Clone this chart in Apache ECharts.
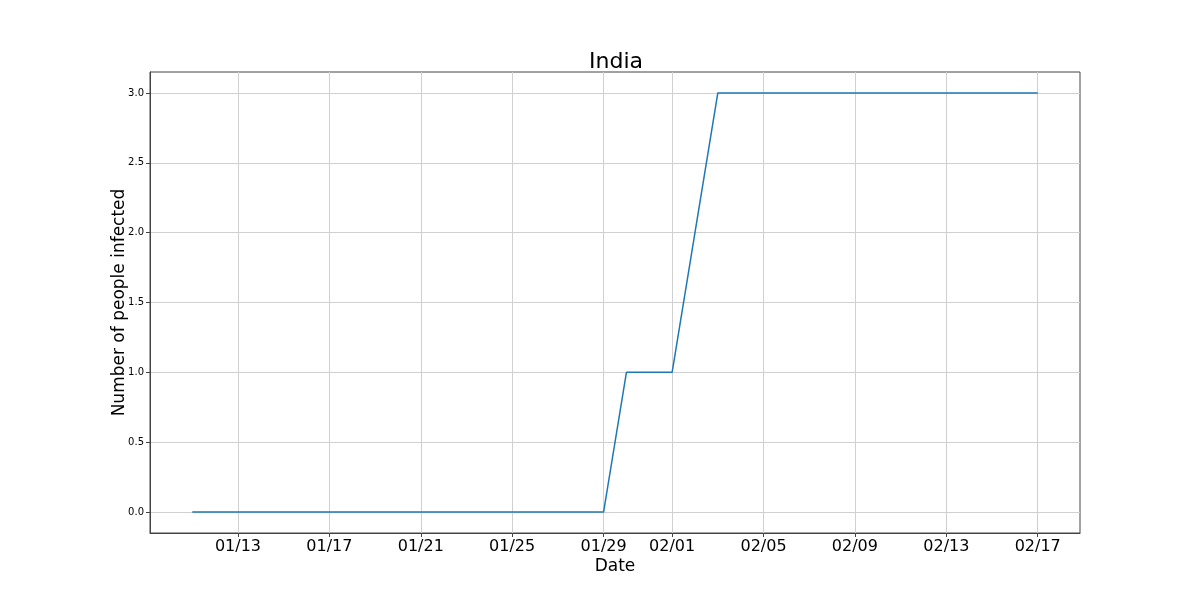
<!DOCTYPE html>
<html>
<head>
<meta charset="utf-8">
<script src="https://cdn.jsdelivr.net/npm/echarts@6/dist/echarts.min.js"></script>
<style>html,body{margin:0;padding:0;background:#fff}#c{width:1200px;height:600px}</style>
</head>
<body>
<div id="c"></div>
<script>
const YEAR = 2020;
const dates = ['01/11','01/12','01/13','01/14','01/15','01/16','01/17','01/18','01/19','01/20',
  '01/21','01/22','01/23','01/24','01/25','01/26','01/27','01/28','01/29','01/30',
  '01/31','02/01','02/02','02/03','02/04','02/05','02/06','02/07','02/08','02/09',
  '02/10','02/11','02/12','02/13','02/14','02/15','02/16','02/17'];
const infected = [0,0,0,0,0,0,0,0,0,0,
  0,0,0,0,0,0,0,0,0,1,
  1,1,2,3,3,3,3,3,3,3,
  3,3,3,3,3,3,3,3];
const xTickLabels = ['01/13','01/17','01/21','01/25','01/29','02/01','02/05','02/09','02/13','02/17'];
const yTicks = [0, 0.5, 1.0, 1.5, 2.0, 2.5, 3.0];

const DAY = 86400000;
function toDay(s){ const [m,d] = s.split('/').map(Number); return Date.UTC(YEAR, m-1, d)/DAY; }
function fmtDay(v){ const dt = new Date(Math.round(v)*DAY); const m = dt.getUTCMonth()+1, d = dt.getUTCDate(); return (m<10?'0':'')+m+'/'+(d<10?'0':'')+d; }

const xs = dates.map(toDay);
const span = xs[xs.length-1]-xs[0];
const xMin = xs[0]-0.05*span, xMax = xs[xs.length-1]+0.05*span;
const yMinData = Math.min(...infected), yMaxData = Math.max(...infected);
const ySpan = yMaxData-yMinData;
const yMin = yMinData-0.05*ySpan, yMax = yMaxData+0.05*ySpan;
const xTickVals = xTickLabels.map(toDay);

const chart = echarts.init(document.getElementById('c'), null, {renderer:'canvas'});
chart.setOption({
  animation:false,
  backgroundColor:'#fff',
  title:{text:'India', left:584, top:46, textStyle:{fontFamily:'DejaVu Sans', fontSize:22, fontWeight:'normal', color:'#000'}},
  grid:{left:150, right:120, top:72, bottom:67, show:true, borderColor:'#444', borderWidth:1, backgroundColor:'transparent'},
  xAxis:{type:'value', min:xMin, max:xMax,
    name:'Date', nameLocation:'middle', nameGap:25, nameMoveOverlap:false,
    nameTextStyle:{fontFamily:'DejaVu Sans', fontSize:17, color:'#000'},
    axisLine:{show:true, onZero:false, lineStyle:{color:'#444', width:1}},
    axisTick:{show:true, length:4, lineStyle:{color:'#444'}, customValues:xTickVals},
    axisLabel:{customValues:xTickVals, formatter:fmtDay, fontFamily:'DejaVu Sans', fontSize:16, color:'#000', margin:6},
    splitLine:{show:true, lineStyle:{color:'#d0d0d0', width:1}}
  },
  yAxis:{type:'value', min:yMin, max:yMax,
    name:'Number of people infected', nameLocation:'middle', nameGap:22, nameMoveOverlap:false,
    nameTextStyle:{fontFamily:'DejaVu Sans', fontSize:17, color:'#000'},
    axisLine:{show:true, onZero:false, lineStyle:{color:'#444', width:1}},
    axisTick:{show:true, length:4, lineStyle:{color:'#444'}, customValues:yTicks},
    axisLabel:{customValues:yTicks, formatter:v=>v.toFixed(1), fontFamily:'DejaVu Sans', fontSize:10, color:'#000', margin:6},
    splitLine:{show:true, lineStyle:{color:'#d0d0d0', width:1}}
  },
  series:[{type:'line', data:xs.map((x,i)=>[x, infected[i]]), showSymbol:false, symbol:'none',
    lineStyle:{color:'#1f77b4', width:1.5}, itemStyle:{color:'#1f77b4'}}]
});
</script>
</body>
</html>
